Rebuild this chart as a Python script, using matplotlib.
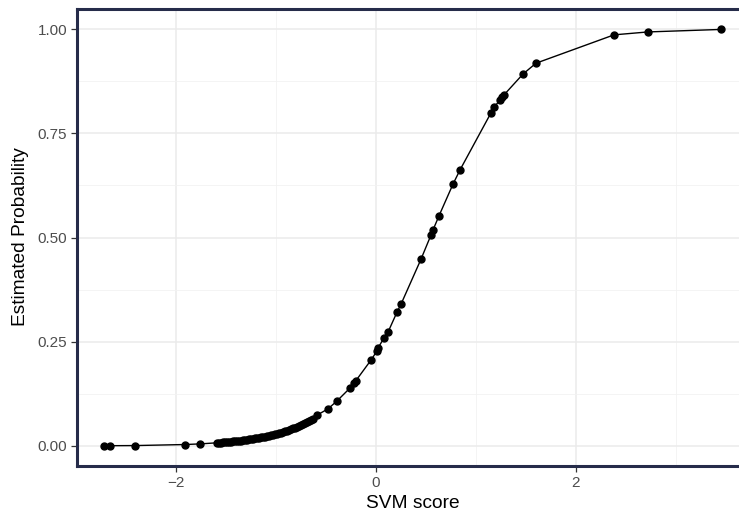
import numpy as np
import matplotlib
matplotlib.use("Agg")
import matplotlib.pyplot as plt
from matplotlib.ticker import MultipleLocator

plt.rcParams['font.family'] = ['Liberation Sans', 'DejaVu Sans']

# SVM scores and their Platt-scaled probabilities
low_score = [-2.72, -2.66, -2.41, -1.91, -1.76]
low_prob = [0.0006, 0.0007, 0.0010, 0.0035, 0.0050]

# the dense run between about -1.6 and -0.6
dense_score = [-1.592, -1.574, -1.551, -1.533, -1.508, -1.491, -1.468, -1.452,
               -1.428, -1.409, -1.392, -1.368, -1.351, -1.327, -1.312, -1.288,
               -1.271, -1.249, -1.232, -1.208, -1.189, -1.171, -1.149, -1.128,
               -1.112, -1.091, -1.068, -1.049, -1.031, -1.008, -0.991, -0.969,
               -0.951, -0.928, -0.912, -0.889, -0.872, -0.851, -0.829, -0.811,
               -0.788, -0.771, -0.748, -0.731, -0.709, -0.692, -0.668, -0.651,
               -0.628]
dense_prob = [0.0076, 0.0079, 0.0083, 0.0087, 0.0091, 0.0095, 0.0100, 0.0104,
              0.0109, 0.0114, 0.0119, 0.0125, 0.0131, 0.0137, 0.0143, 0.0150,
              0.0157, 0.0164, 0.0172, 0.0180, 0.0188, 0.0197, 0.0206, 0.0215,
              0.0225, 0.0235, 0.0246, 0.0258, 0.0270, 0.0282, 0.0295, 0.0308,
              0.0322, 0.0337, 0.0352, 0.0368, 0.0385, 0.0403, 0.0421, 0.0440,
              0.0460, 0.0480, 0.0502, 0.0525, 0.0548, 0.0572, 0.0598, 0.0622,
              0.0650]

high_score = [-0.59, -0.48, -0.39, -0.26, -0.22, -0.20, -0.05, 0.01, 0.02,
              0.08, 0.12, 0.21, 0.25, 0.45, 0.55, 0.57, 0.63, 0.77, 0.84,
              1.15, 1.18, 1.24, 1.26, 1.28, 1.47, 1.60, 2.38, 2.72, 3.45]
high_prob = [0.074, 0.089, 0.108, 0.139, 0.151, 0.157, 0.206, 0.228, 0.235,
             0.259, 0.273, 0.321, 0.340, 0.448, 0.506, 0.518, 0.552, 0.628, 0.662,
             0.799, 0.813, 0.829, 0.836, 0.842, 0.892, 0.918, 0.986, 0.993, 0.999]

score = np.array(low_score + dense_score + high_score)
prob = np.array(low_prob + dense_prob + high_prob)
order = np.argsort(score)
score = score[order]
prob = prob[order]

W, H = 739, 515
fig = plt.figure(figsize=(W / 100, H / 100), dpi=100)
# panel runs a little past the right edge of the picture, as in the original
left, right, top, bottom = 77, 752, 9, 466
ax = fig.add_axes([left / W, (H - bottom) / H, (right - left) / W, (bottom - top) / H])

ax.plot(score, prob, color='black', lw=1.0, zorder=3)
ax.plot(score, prob, 'o', color='black', ms=5.0, zorder=4)

ax.set_xlim(-2.99, 3.76)
ax.set_ylim(-0.048, 1.048)

ax.xaxis.set_major_locator(MultipleLocator(2))
ax.xaxis.set_minor_locator(MultipleLocator(1))
ax.yaxis.set_major_locator(MultipleLocator(0.25))
ax.yaxis.set_minor_locator(MultipleLocator(0.125))
ax.yaxis.set_major_formatter(plt.FuncFormatter(lambda v, p: '%.2f' % v))
ax.xaxis.set_major_formatter(plt.FuncFormatter(lambda v, p: ('\u2212%d' % -v) if v < 0 else '%d' % v))

ax.grid(which='major', color='#ebebeb', lw=1.1, zorder=0)
ax.grid(which='minor', color='#f2f2f2', lw=0.6, zorder=0)
ax.set_axisbelow(True)

for side in ['left', 'top', 'bottom']:
    ax.spines[side].set_color('#262c4a')
    ax.spines[side].set_linewidth(2.2)
ax.spines['right'].set_visible(False)

ax.tick_params(which='major', length=4.5, width=0.9, color='#333333',
               labelcolor='#4d4d4d', labelsize=11, pad=2.5)
ax.tick_params(which='minor', length=0)

fig.text(413 / W, (H - 508) / H, 'SVM score', fontsize=13.8, color='black',
         ha='center', va='baseline')
fig.text(21 / W, (H - 237) / H, 'Estimated Probability', fontsize=13.8,
         color='black', rotation=90, ha='center', va='center')

fig.savefig('out.png', dpi=100)
